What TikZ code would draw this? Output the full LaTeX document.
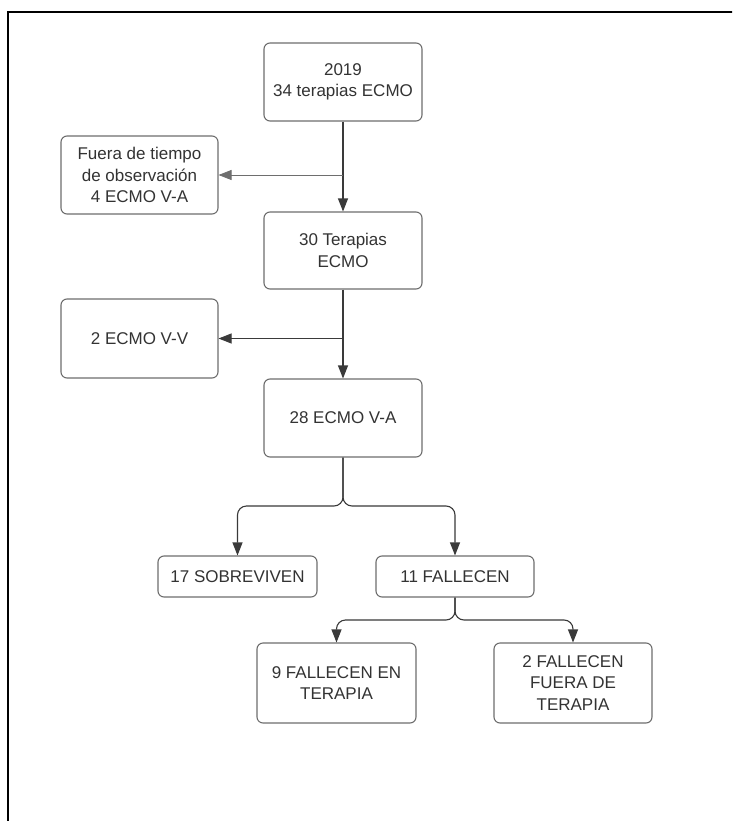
\documentclass[tikz,border=0pt]{standalone}
\usepackage{fontspec}
\setmainfont{Liberation Sans}
\usetikzlibrary{arrows.meta}
\definecolor{txt}{HTML}{333333}
\definecolor{bord}{HTML}{6E6E6E}
\definecolor{conn}{HTML}{3A3A3A}
\tikzset{
  box/.style={draw=bord, line width=1.1pt, rounded corners=6pt, align=center, inner sep=0pt,
    text=txt, font=\fontsize{17}{21.5}\selectfont},
  conn/.style={draw=conn, line width=1.1pt, -{Triangle[length=13pt,width=10pt]}},
  split/.style={conn, rounded corners=9pt},
}
\begin{document}
\begin{tikzpicture}[x=1pt,y=-1pt]
\useasboundingbox (0,0) rectangle (732,821);
\clip (0,0) rectangle (732,821);
\fill[white] (0,0) rectangle (732,821);
\draw[line width=2pt, black] (8,840) -- (8,12) -- (760,12);

\node[box, minimum width=158pt, minimum height=78pt] (n1) at (343,82) {2019\\34 terapias ECMO};
\node[box, minimum width=157pt, minimum height=78pt] (fuera) at (139.5,175) {Fuera de tiempo\\de observación\\4 ECMO V-A};
\node[box, minimum width=158pt, minimum height=77pt] (n2) at (343,250.5) {30 Terapias\\ECMO};
\node[box, minimum width=157pt, minimum height=79pt] (vv) at (139.5,338.5) {2 ECMO V-V};
\node[box, minimum width=158pt, minimum height=78pt] (va) at (343,418) {28 ECMO V-A};
\node[box, minimum width=159pt, minimum height=41pt] (sob) at (237.5,576.5) {17 SOBREVIVEN};
\node[box, minimum width=158pt, minimum height=41pt] (fal) at (455,576.5) {11 FALLECEN};
\node[box, minimum width=159pt, minimum height=80pt] (f9) at (336.5,683) {9 FALLECEN EN\\TERAPIA};
\node[box, minimum width=158pt, minimum height=80pt] (f2) at (573,683) {2 FALLECEN\\FUERA DE\\TERAPIA};

\coordinate (b1) at (n1.south |- fuera.east);
\coordinate (b2) at (n2.south |- vv.east);
\draw[conn] (n1.south) -- (n2.north);
\draw[conn, line width=0.7pt, draw=bord] (b1) -- (fuera.east);
\draw[conn] (n2.south) -- (va.north);
\draw[conn] (b2) -- (vv.east);

\coordinate (s1) at (343,506);
\coordinate (s2) at (455,620);
\draw[split] (va.south) -- (s1) -| (sob.north);
\draw[split] (va.south) -- (s1) -| (fal.north);
\draw[split] (fal.south) -- (s2) -| (f9.north);
\draw[split] (fal.south) -- (s2) -| (f2.north);
\end{tikzpicture}
\end{document}
